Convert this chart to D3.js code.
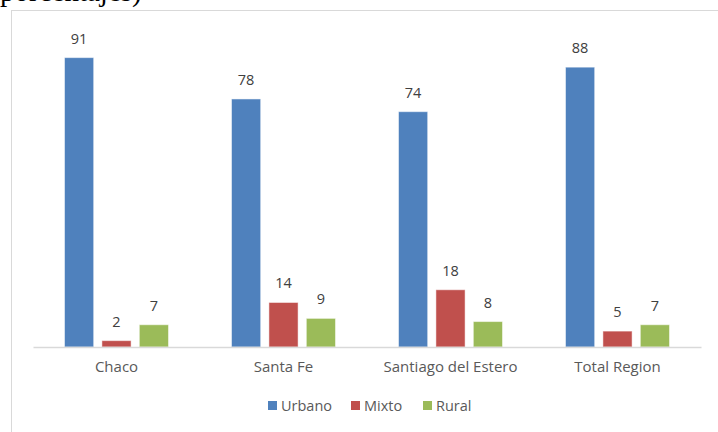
<!DOCTYPE html>
<html>
<head>
<meta charset="utf-8">
<script src="https://cdn.jsdelivr.net/npm/d3@7"></script>
<style>
  body { margin: 0; background: #fff; }
  svg { display: block; }
</style>
</head>
<body>
<div id="chart"></div>
<script>
var categories = ["Chaco", "Santa Fe", "Santiago del Estero", "Total Region"];
var seriesNames = ["Urbano", "Mixto", "Rural"];
var urbano = [91, 78, 74, 88];
var mixto = [2, 14, 18, 5];
var rural = [7, 9, 8, 7];
var colors = ["#4F81BD", "#C0504D", "#9BBB59"];

var width = 718, height = 432;
var margin = {top: 29, right: 15, bottom: 85, left: 33};

var svg = d3.select("#chart").append("svg")
    .attr("width", width)
    .attr("height", height);

// caption cut off above the chart
svg.append("text")
    .attr("x", 0)
    .attr("y", 1)
    .attr("font-family", "Liberation Serif, Times New Roman, serif")
    .attr("font-size", 29)
    .attr("fill", "#000")
    .text("porcentajes)");

// chart frame
svg.append("rect")
    .attr("x", 11.5)
    .attr("y", 10.5)
    .attr("width", 720)
    .attr("height", 440)
    .attr("fill", "none")
    .attr("stroke", "#d9d9d9");

var data = categories.map(function(c, i) {
    return {cat: c, values: [urbano[i], mixto[i], rural[i]]};
});

var x = d3.scaleBand()
    .domain(categories)
    .range([margin.left, width - margin.right - 2])
    .paddingInner(0)
    .paddingOuter(0);

var x1 = d3.scaleBand()
    .domain(seriesNames)
    .range([31.5, x.bandwidth() - 31.5])
    .paddingInner(0.22);

var y = d3.scaleLinear()
    .domain([0, 100])
    .range([347, 29]);

var groups = svg.selectAll("g.cat")
    .data(data)
    .enter().append("g")
    .attr("class", "cat")
    .attr("transform", function(d) { return "translate(" + x(d.cat) + ",0)"; });

groups.selectAll("rect")
    .data(function(d) { return d.values.map(function(v, j) { return {name: seriesNames[j], value: v, j: j}; }); })
    .enter().append("rect")
    .attr("x", function(d) { return x1(d.name); })
    .attr("y", function(d) { return y(d.value); })
    .attr("width", x1.bandwidth())
    .attr("height", function(d) { return y(0) - y(d.value); })
    .attr("fill", function(d) { return colors[d.j]; })
    .attr("stroke", "#ffffff")
    .attr("stroke-opacity", 0.5)
    .attr("stroke-width", 1);

groups.selectAll("text.val")
    .data(function(d) { return d.values.map(function(v, j) { return {name: seriesNames[j], value: v}; }); })
    .enter().append("text")
    .attr("class", "val")
    .attr("x", function(d) { return x1(d.name) + x1.bandwidth() / 2; })
    .attr("y", function(d) { return y(d.value) - 14; })
    .attr("text-anchor", "middle")
    .attr("font-family", "Open Sans, sans-serif")
    .attr("font-size", 14.5)
    .attr("fill", "#404040")
    .text(function(d) { return d.value; });

// x axis
var xAxis = svg.append("g")
    .attr("transform", "translate(0," + y(0) + ")")
    .call(d3.axisBottom(x).tickSize(0).tickPadding(14));
xAxis.select(".domain")
    .attr("stroke", "#d9d9d9")
    .attr("stroke-width", 1.5);
xAxis.selectAll("text")
    .attr("font-family", "Open Sans, sans-serif")
    .attr("font-size", 15)
    .attr("fill", "#595959");

// legend
var legendX = [268, 351, 423];
var legend = svg.selectAll("g.legend")
    .data(seriesNames)
    .enter().append("g")
    .attr("class", "legend")
    .attr("transform", function(d, i) { return "translate(" + legendX[i] + ",401)"; });

legend.append("rect")
    .attr("width", 9)
    .attr("height", 9)
    .attr("fill", function(d, i) { return colors[i]; });

legend.append("text")
    .attr("x", 13)
    .attr("y", 10)
    .attr("font-family", "Open Sans, sans-serif")
    .attr("font-size", 14.5)
    .attr("fill", "#595959")
    .text(function(d) { return d; });
</script>
</body>
</html>
